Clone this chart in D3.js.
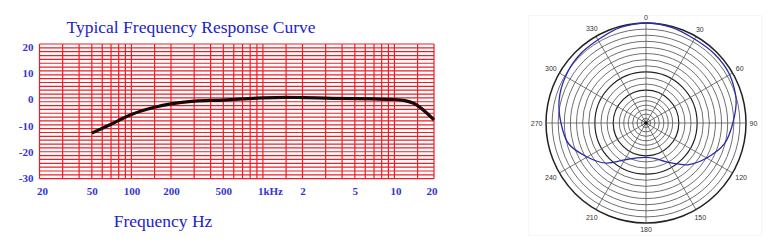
<!DOCTYPE html>
<html><head><meta charset="utf-8">
<script src="https://cdn.jsdelivr.net/npm/d3@7"></script>
<style>html,body{margin:0;padding:0;background:#fff;}svg{display:block;}</style>
</head><body>
<svg id="c" width="775" height="249"></svg>
<script>
// ---- Frequency response data ----
const freqHz = [50, 70, 100, 150, 200, 300, 500, 700, 1000, 1500, 2000, 3000, 5000, 7000, 10000, 12000, 14000, 20000];
const responseDb = [-13.1, -9.8, -6.2, -3.5, -2.2, -1.2, -0.8, -0.4, 0.0, 0.2, 0.1, -0.1, -0.3, -0.4, -0.6, -1.0, -2.0, -8.2];
const xGridHz = [20,30,40,50,60,70,80,90,100,150,200,300,400,500,600,700,800,900,1000,1500,2000,3000,4000,5000,6000,7000,8000,9000,10000,15000,20000];
const xTickHz = [20, 50, 100, 200, 500, 1000, 2000, 5000, 10000, 20000];
const xTickLabels = ["20", "50", "100", "200", "500", "1kHz", "2", "5", "10", "20"];
const yTickDb = [20, 10, 0, -10, -20, -30];
const yTickLabels = ["20", "10", "0", "-10", "-20", "-30"];
const yGridRows = 35;

// ---- Polar pattern data ----
const polarAnglesDeg = [0,15,30,45,60,75,90,105,120,135,150,165,180,195,210,225,240,255,270,285,300,315,330,345];
const polarDb = [0,-0.3,-1.0,-0.9,-1.1,-2.2,-4.3,-6.2,-9.8,-13.4,-17.8,-20.7,-21.5,-20.9,-18.8,-14.2,-10.5,-6.5,-4.9,-3.3,-2.3,-1.6,-1.3,-0.3];
const ringDb = [0,-2,-4,-6,-8,-10,-12,-14,-16,-18,-20,-22,-24,-26,-28,-30,-32,-34];
const boldRingDb = [0, -16, -22];
const spokeDeg = [0,30,60,90,120,150,180,210,240,270,300,330];
const spokeLabels = ["0","30","60","90","120","150","180","210","240","270","300","330"];

const svg = d3.select("#c");

// ================= Left chart =================
const x = d3.scaleLog().domain([20, 20000]).range([39.5, 434]);
const y = d3.scaleLinear().domain([-30, 20]).range([178.7, 44]);
const yLab = d3.scaleLinear().domain([-30, 20]).range([177.7, 47.3]);
const red = "#ee1c24";
const blue = "#3434d6";

const g = svg.append("g");
const rowVals = d3.range(yGridRows + 1).map(i => 20 - i * 50 / yGridRows);
g.selectAll("line.h").data(rowVals).join("line").attr("class", "h")
  .attr("x1", x(20)).attr("x2", x(20000))
  .attr("y1", d => y(d)).attr("y2", d => y(d))
  .attr("stroke", red).attr("stroke-width", 1.2);
g.selectAll("line.v").data(xGridHz).join("line").attr("class", "v")
  .attr("x1", d => x(d)).attr("x2", d => x(d))
  .attr("y1", y(20)).attr("y2", y(-30))
  .attr("stroke", red).attr("stroke-width", 1.2);

// y tick labels
g.selectAll("text.yl").data(yTickDb).join("text").attr("class", "yl")
  .attr("x", 33.5).attr("y", d => yLab(d))
  .attr("text-anchor", "end").attr("dominant-baseline", "central")
  .attr("font-family", "Liberation Serif, serif").attr("font-weight", "bold")
  .attr("font-size", 11).attr("fill", blue)
  .text((d, i) => yTickLabels[i]);

// x tick labels
g.selectAll("text.xl").data(xTickHz).join("text").attr("class", "xl")
  .attr("x", (d, i) => {
    if (i === 0) return x(d) + 3;
    if (i === xTickHz.length - 1) return x(d) - 2;
    if (xTickLabels[i] === "1kHz") return x(d) - 5;
    return x(d) + (d === 10000 ? 1.5 : 0.5);
  })
  .attr("y", 191)
  .attr("text-anchor", (d, i) => xTickLabels[i] === "1kHz" ? "start" : "middle")
  .attr("dominant-baseline", "central")
  .attr("font-family", "Liberation Serif, serif").attr("font-weight", "bold")
  .attr("font-size", 11).attr("fill", blue)
  .text((d, i) => xTickLabels[i]);

// response curve
const pts = freqHz.map((f, i) => [f, responseDb[i]]);
g.append("path").datum(pts)
  .attr("d", d3.line().x(d => x(d[0])).y(d => y(d[1])).curve(d3.curveMonotoneX))
  .attr("fill", "none").attr("stroke", "#140a0a").attr("stroke-width", 3.2)
  .attr("stroke-linejoin", "round");

// titles
g.append("text").attr("x", 66.5).attr("y", 33)
  .attr("font-family", "Liberation Serif, serif").attr("font-size", 17.5)
  .attr("fill", "#2222cc").text("Typical Frequency Response Curve");
g.append("text").attr("x", 163).attr("y", 227)
  .attr("text-anchor", "middle")
  .attr("font-family", "Liberation Serif, serif").attr("font-size", 17.5)
  .attr("fill", "#2222cc").text("Frequency Hz");

// ================= Polar chart =================
const cx = 646, cy = 123;
const r = d3.scaleLinear().domain([-36, -24, 0]).range([0, 26.7, 100]);
const p = svg.append("g");
p.append("rect").attr("x", 528.5).attr("y", 15.5).attr("width", 233).attr("height", 220)
  .attr("fill", "#fff").attr("stroke", "#f6f6f6");
const pg = p.append("g").attr("transform", `translate(${cx},${cy})`);

pg.selectAll("circle.ring").data(ringDb).join("circle").attr("class", "ring")
  .attr("r", d => r(d)).attr("fill", "none")
  .attr("stroke", d => boldRingDb.includes(d) ? "#222" : "#555")
  .attr("stroke-width", d => d === 0 ? 1.5 : (boldRingDb.includes(d) ? 1.2 : 0.85));

pg.selectAll("line.spoke").data(spokeDeg).join("line").attr("class", "spoke")
  .attr("x1", 0).attr("y1", 0)
  .attr("x2", d => r(0) * Math.sin(d * Math.PI / 180))
  .attr("y2", d => -r(0) * Math.cos(d * Math.PI / 180))
  .attr("stroke", "#555").attr("stroke-width", 0.8);

pg.append("circle").attr("r", 1.8).attr("fill", "#111");

const lbl = pg.selectAll("text.pl").data(spokeDeg).join("text").attr("class", "pl")
  .attr("font-family", "Liberation Sans, Arial, sans-serif").attr("font-size", 7)
  .attr("fill", "#333").attr("text-anchor", "middle").attr("dominant-baseline", "central")
  .text((d, i) => spokeLabels[i]);
lbl.each(function(d) {
  const w = this.getComputedTextLength();
  const a = d * Math.PI / 180;
  const rr = r(0) + 3.5 + Math.abs(Math.sin(a)) * w / 2 + Math.abs(Math.cos(a)) * 2.5;
  d3.select(this).attr("x", rr * Math.sin(a)).attr("y", -rr * Math.cos(a));
});

const pat = polarAnglesDeg.map((a, i) => [a * Math.PI / 180, r(polarDb[i])]);
pg.append("path").datum(pat)
  .attr("d", d3.lineRadial().angle(d => d[0]).radius(d => d[1]).curve(d3.curveCardinalClosed.tension(0.2)))
  .attr("fill", "none").attr("stroke", "#2b2ba8").attr("stroke-width", 1.3);
</script>
</body></html>
